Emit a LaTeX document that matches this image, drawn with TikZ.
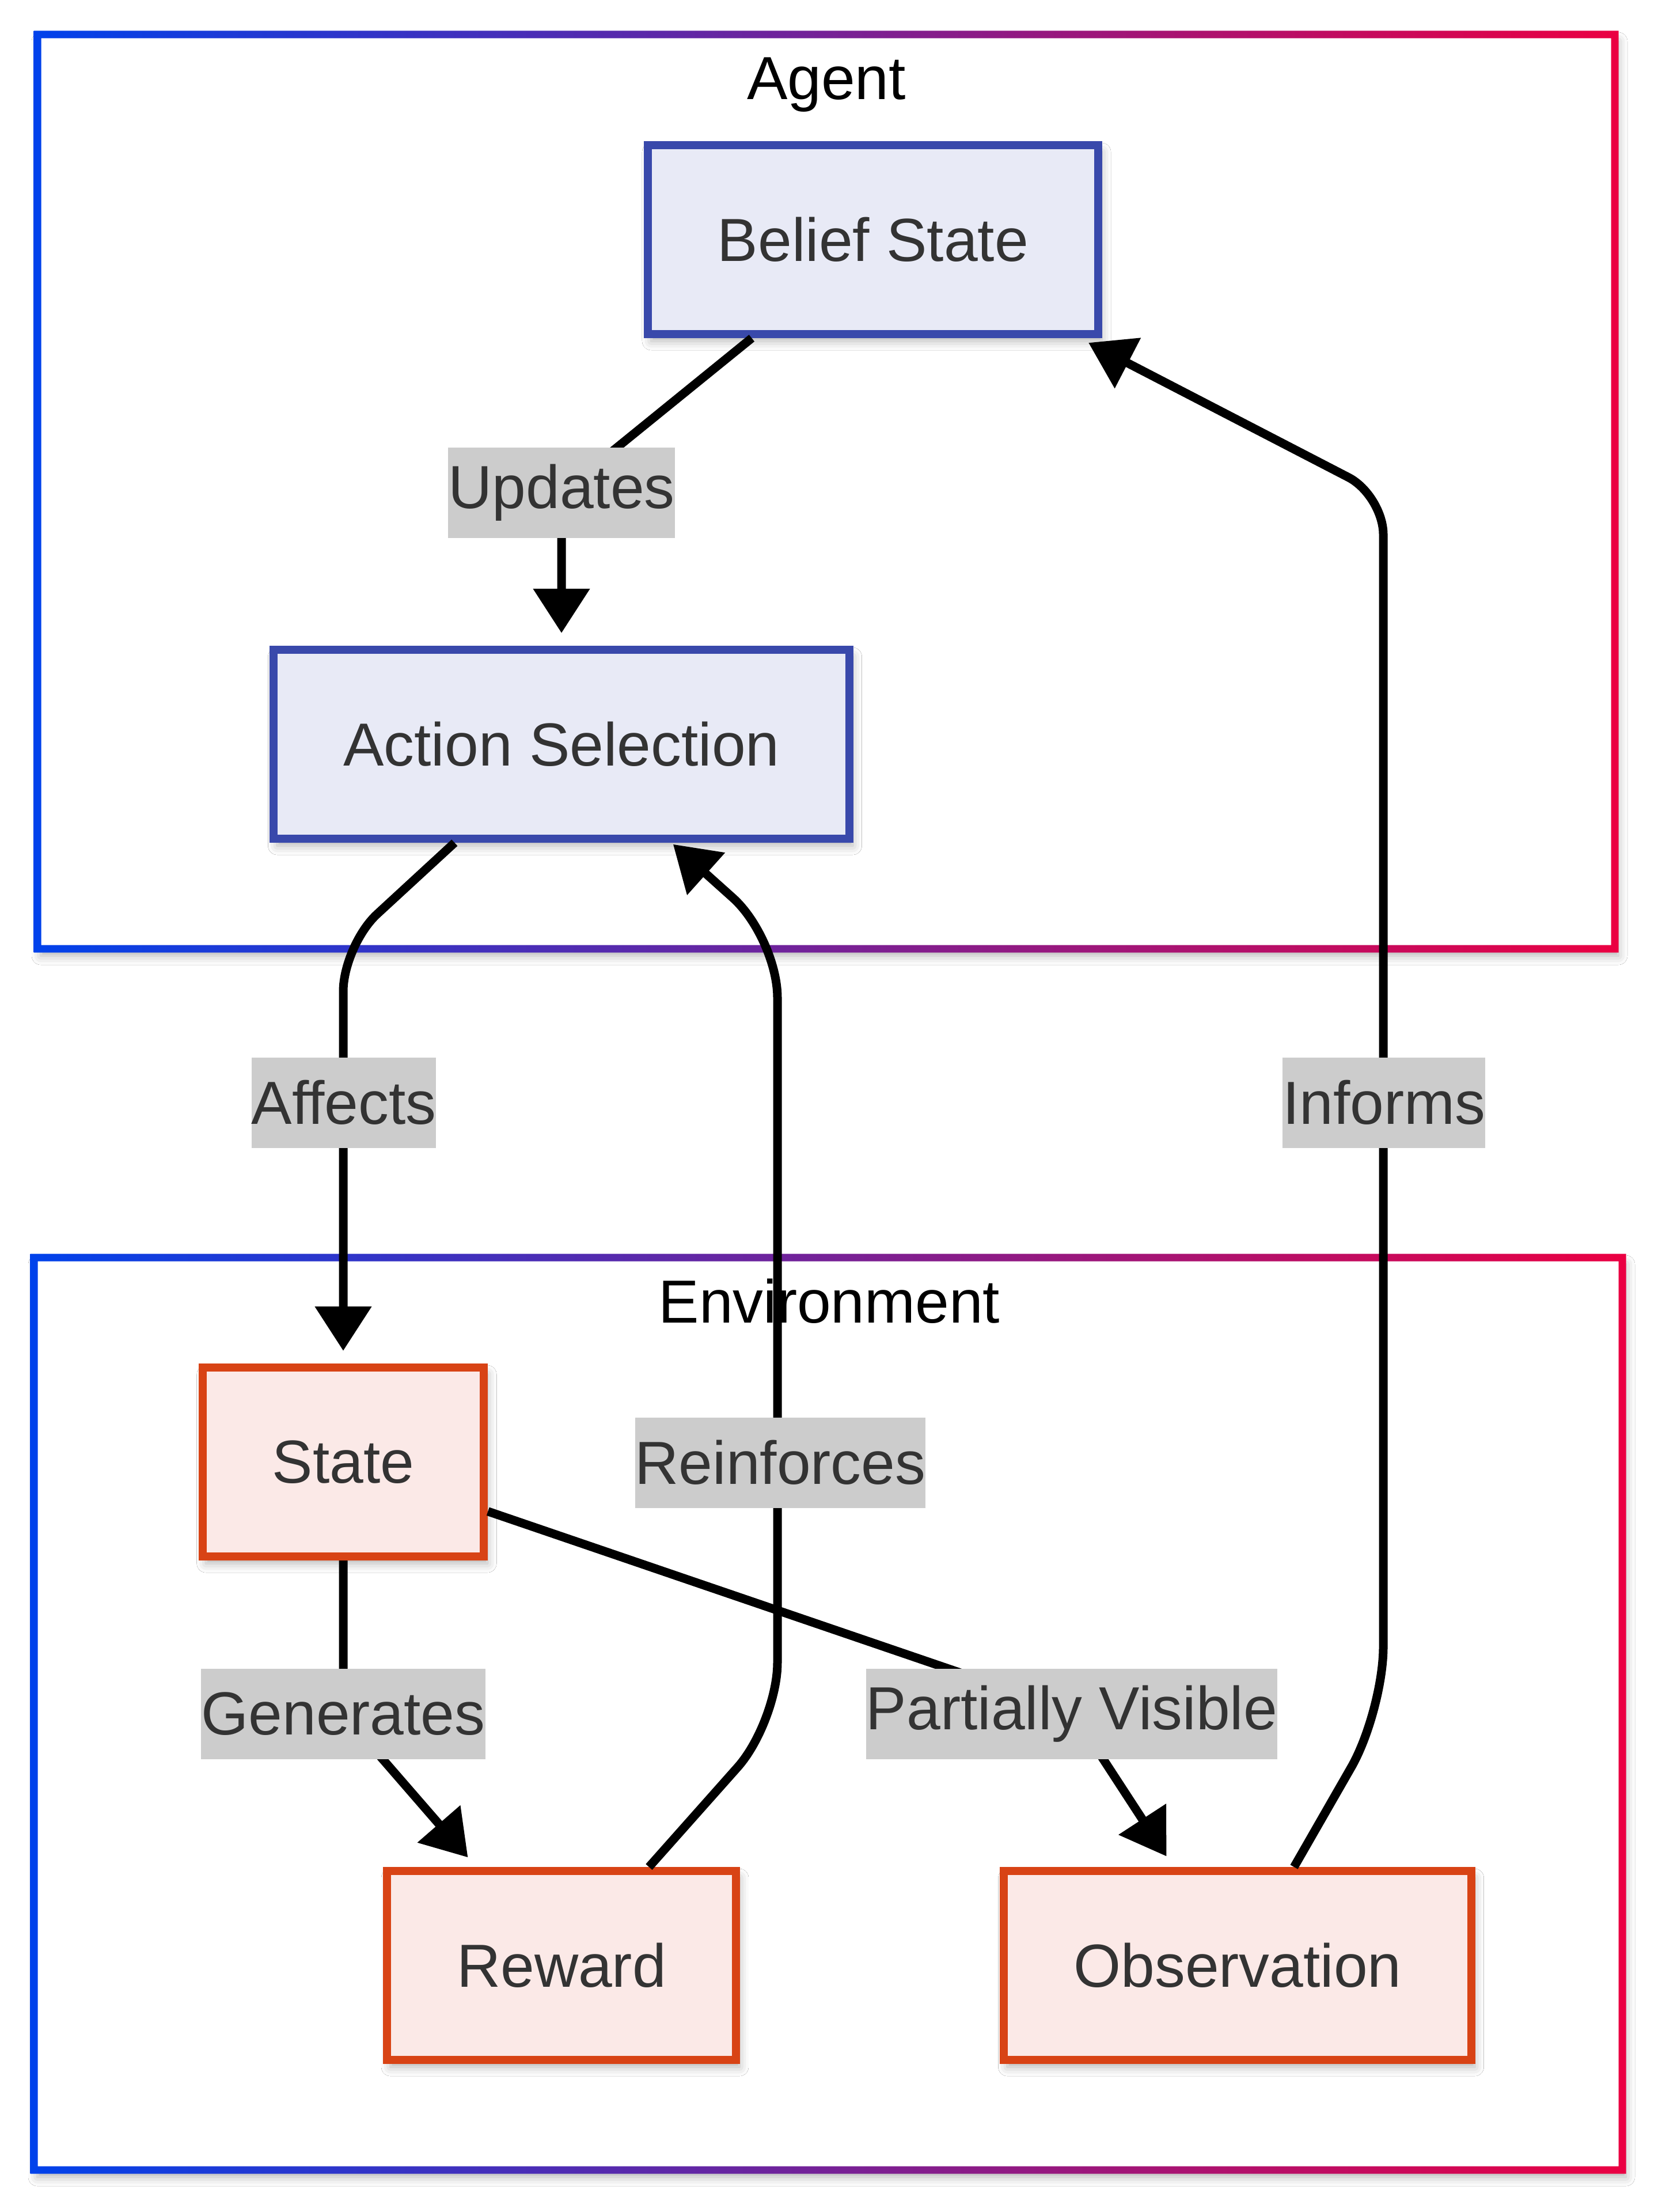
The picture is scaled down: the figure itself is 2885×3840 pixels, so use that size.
\documentclass[tikz,border=0pt]{standalone}
\usepackage{fontspec}
\setmainfont{Liberation Sans}
\usetikzlibrary{arrows.meta,shadows.blur}

\definecolor{gblue}{HTML}{0042EB}
\definecolor{gred}{HTML}{EB0042}
\definecolor{agfill}{HTML}{E8EAF6}
\definecolor{agline}{HTML}{3949AB}
\definecolor{envfill}{HTML}{FBE9E7}
\definecolor{envline}{HTML}{D84315}
\definecolor{txt}{HTML}{333333}
\definecolor{lblbg}{HTML}{CCCCCC}

\begin{document}
\begin{tikzpicture}[x=0.25pt,y=-0.25pt,
  font=\fontsize{26.4pt}{39.6pt}\selectfont,
  softshadow/.style={blur shadow={shadow xshift=1.5pt, shadow yshift=-3pt,
      shadow blur radius=4pt, shadow opacity=30}},
  box/.style={rectangle, line width=3.5pt, inner xsep=30.25pt, inner ysep=0pt,
      minimum height=82pt, text=txt, softshadow},
  agentbox/.style={box, draw=agline, fill=agfill},
  envbox/.style={box, draw=envline, fill=envfill},
  lbl/.style={fill=lblbg, text=txt, inner xsep=0pt, inner ysep=0pt,
      minimum height=39.25pt},
  edge/.style={draw=black, line width=3.75pt, line join=round,
      -{Triangle[length=19.25pt,width=23.75pt]}, shorten >=5.5pt},
  grouptitle/.style={text=black, anchor=base, inner sep=0pt}
]
\useasboundingbox (0,0) rectangle (2885,3840);
\fill[white] (0,0) rectangle (2885,3840);

% group frames: white panel with soft shadow, gradient border on top
\fill[white, softshadow] (65,60) rectangle (2804,1647);
\shade[left color=gblue, right color=gred, even odd rule]
  (58.5,53.5) rectangle (2810.5,1653.5) (71.5,66.5) rectangle (2797.5,1640.5);
\fill[white, softshadow] (59,2183) rectangle (2817,3767);
\shade[left color=gblue, right color=gred, even odd rule]
  (52.5,2176.5) rectangle (2823.5,3773.5) (65.5,2189.5) rectangle (2810.5,3760.5);

\node[grouptitle] (agentT) at (1435,173) {Agent};
\node[grouptitle] (envT) at (1440,2296) {Environment};

% agent nodes
\node[agentbox] (belief) at (1516,416) {Belief State};
\node[agentbox] (action) at (975,1292) {Action Selection};

% environment nodes
\node[envbox] (state) at (596,2538) {State};
\node[envbox] (reward) at (975,3412) {Reward};
\node[envbox] (obs) at (2149,3412) {Observation};

% connectors
\draw[edge, rounded corners=12pt] (belief) -- (975,855) -- (action);
\draw[edge, rounded corners=20pt] (action) -- (596,1641) -- (state);
\draw[edge, rounded corners=26pt, shorten >=1pt] (reward) -- (1350,2990) -- (1350,1628) -- (action);
\draw[edge, rounded corners=20pt] (state) -- (596,2975) -- (reward);
\draw[edge, rounded corners=20pt] (state) -- (1861,2970) -- (obs);
\draw[edge, rounded corners=28pt, shorten >=0pt] (obs) -- (2402,2971)
  [rounded corners=17pt] -- (2402,860)
  -- ([xshift=-6pt,yshift=-2pt]belief.south east);

% connector labels
\node[lbl] (lUpdates) at (975,855) {Updates};
\node[lbl] (lAffects) at (597,1914) {Affects};
\node[lbl] (lInforms) at (2403,1914) {Informs};
\node[lbl] (lReinf) at (1355,2539) {Reinforces};
\node[lbl] (lGen) at (596,2975) {Generates};
\node[lbl] (lPart) at (1861,2975) {Partially Visible};
\end{tikzpicture}
\end{document}
